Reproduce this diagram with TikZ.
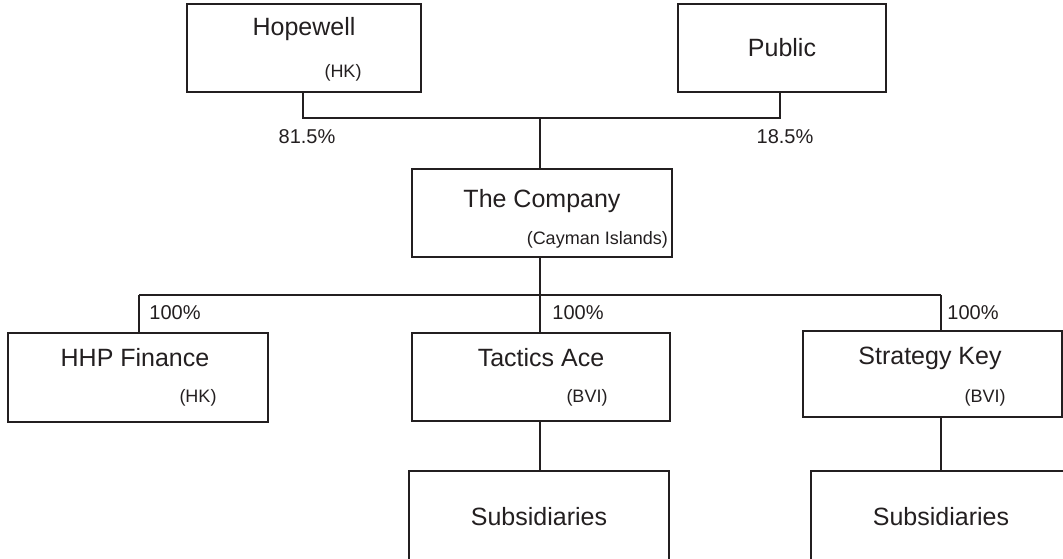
\documentclass[tikz,border=0pt]{standalone}
\usepackage{fontspec}
\setmainfont{Liberation Sans}
\definecolor{ink}{HTML}{231F20}
\begin{document}
\begin{tikzpicture}[x=1pt,y=-1pt,
  box/.style={draw=ink,line width=1.3pt,rectangle,inner sep=0pt},
  big/.style={text=ink,inner sep=0pt,font=\fontsize{25}{30}\selectfont},
  small/.style={text=ink,inner sep=0pt,font=\fontsize{18}{22}\selectfont},
  pct/.style={text=ink,inner sep=0pt,font=\fontsize{20}{24}\selectfont},
  link/.style={draw=ink,line width=1.3pt}]
\clip (0,0) rectangle (1063,558);
\fill[white] (0,0) rectangle (1063,558);
% boxes
\node[box,minimum width=234pt,minimum height=88pt] (hope) at (304,48) {};
\node[box,minimum width=208pt,minimum height=88pt] (pub) at (782,48) {};
\node[box,minimum width=260pt,minimum height=88pt] (comp) at (542,213) {};
\node[box,minimum width=260pt,minimum height=89pt] (hhp) at (138,377.5) {};
\node[box,minimum width=258pt,minimum height=88pt] (tac) at (541,377) {};
\node[box,minimum width=259pt,minimum height=86pt] (str) at (932.5,374) {};
\node[box,minimum width=260pt,minimum height=99pt] (sub1) at (539,520.5) {};
\node[box,minimum width=270pt,minimum height=99pt] (sub2) at (946,520.5) {};
% texts
\node[big] (thope) at (304,29) {Hopewell};
\node[small] (shope) at (343,73) {(HK)};
\node[big] (tpub) at (782,48) {Public};
\node[big] (tcomp) at (542,201) {The Company};
\node[small,anchor=east] (scomp) at (668,240) {(Cayman Islands)};
\node[big] (thhp) at (135,358) {HHP Finance};
\node[small] (shhp) at (198,398) {(HK)};
\node[big] (ttac) at (541,358) {Tactics Ace};
\node[small] (stac) at (587,398) {(BVI)};
\node[big] (tstr) at (930,358) {Strategy Key};
\node[small] (sstr) at (985,398) {(BVI)};
\node[big] (tsub1) at (539,517) {Subsidiaries};
\node[big] (tsub2) at (941,517) {Subsidiaries};
% percentages
\node[pct] (p1) at (307,137) {81.5\%};
\node[pct] (p2) at (785,137) {18.5\%};
\node[pct] (p3) at (175,313) {100\%};
\node[pct] (p4) at (578,313) {100\%};
\node[pct] (p5) at (973,313) {100\%};
% connectors
\coordinate (topbar) at (540,118);
\coordinate (midbar) at (540,295);
\coordinate (lbar) at (139,295);
\coordinate (rbar) at (941,295);
\draw[link] (hope.south -| 303,0) |- (topbar) -| (pub.south -| 780,0);
\draw[link] (topbar) -- (comp.north -| topbar);
\draw[link] (comp.south -| midbar) -- (midbar);
\draw[link] (lbar) -- (rbar);
\draw[link] (lbar) -- (hhp.north -| lbar);
\draw[link] (midbar) -- (tac.north -| midbar);
\draw[link] (rbar) -- (str.north -| rbar);
\draw[link] (tac.south -| midbar) -- (sub1.north -| midbar);
\draw[link] (str.south -| rbar) -- (sub2.north -| rbar);
\end{tikzpicture}
\end{document}
